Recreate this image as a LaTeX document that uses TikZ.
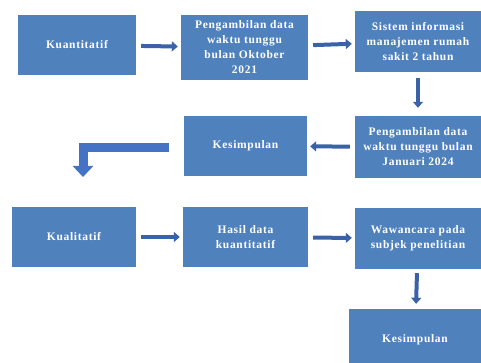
\documentclass[tikz,border=0pt]{standalone}
\usepackage{fontspec}
\setmainfont{Liberation Serif}[LetterSpace=6]
\usetikzlibrary{arrows.meta,positioning,calc}
\definecolor{BoxBlue}{HTML}{4F81BD}
\definecolor{ArrowBlue}{HTML}{4472C4}
\definecolor{ArrowEdge}{HTML}{3A62A8}

\begin{document}
\begin{tikzpicture}[x=1pt,y=-1pt,
    stepbox/.style={fill=BoxBlue,text=white,align=center,inner sep=2pt,
      font=\fontsize{11.5}{15}\selectfont\bfseries},
    flow/.style={-{Triangle[length=6pt,width=10pt]},line width=4pt,ArrowEdge,
      shorten <=5pt,shorten >=3pt},
    bigflow/.style={-{Triangle[length=11pt,width=20pt]},line width=9pt,ArrowBlue}]
        \useasboundingbox (0,0) rectangle (481,363);
        \clip (0,0) rectangle (481,363);
        % row one
        \node[stepbox,minimum width=118pt,minimum height=60pt] (kuan) at (77,45) {Kuantitatif};
        \node[stepbox,minimum width=127pt,minimum height=65pt] (okt) at (244.5,47.5) {Pengambilan data\\waktu tunggu\\bulan Oktober\\2021};
        \node[stepbox,minimum width=126pt,minimum height=61pt] (simrs) at (418,41.5) {Sistem informasi\\manajemen rumah\\sakit 2 tahun};
        % row two
        \node[stepbox,minimum width=126pt,minimum height=62pt] (jan) at (418,147) {Pengambilan data\\waktu tunggu bulan\\Januari 2024};
        \node[stepbox,minimum width=123pt,minimum height=60pt] (kes) at (245.5,146) {Kesimpulan};
        % row three
        \node[stepbox,minimum width=124pt,minimum height=60pt] (kual) at (74,237) {Kualitatif};
        \node[stepbox,minimum width=125pt,minimum height=60pt] (hasil) at (245.5,237) {Hasil data\\kuantitatif};
        \node[stepbox,minimum width=126pt,minimum height=61pt] (waw) at (418,238.5) {Wawancara pada\\subjek penelitian};
        \node[stepbox,minimum width=132pt,minimum height=62pt] (kesend) at (415,340) {Kesimpulan};
        \coordinate (drop) at (83,177);
        \draw[flow] (kuan) -- (okt);
        \draw[flow] (okt) -- (simrs);
        \draw[flow,shorten <=6pt,shorten >=8pt] (simrs) -- (jan);
        \draw[flow] (jan) -- (kes);
        \draw[bigflow] ([xshift=-15pt,yshift=-2pt]kes.west) -| (drop);
        \draw[flow] (kual) -- (hasil);
        \draw[flow] (hasil) -- (waw);
        \draw[flow,shorten <=4pt,shorten >=5pt] (waw) -- (kesend);
      \end{tikzpicture}
\end{document}
